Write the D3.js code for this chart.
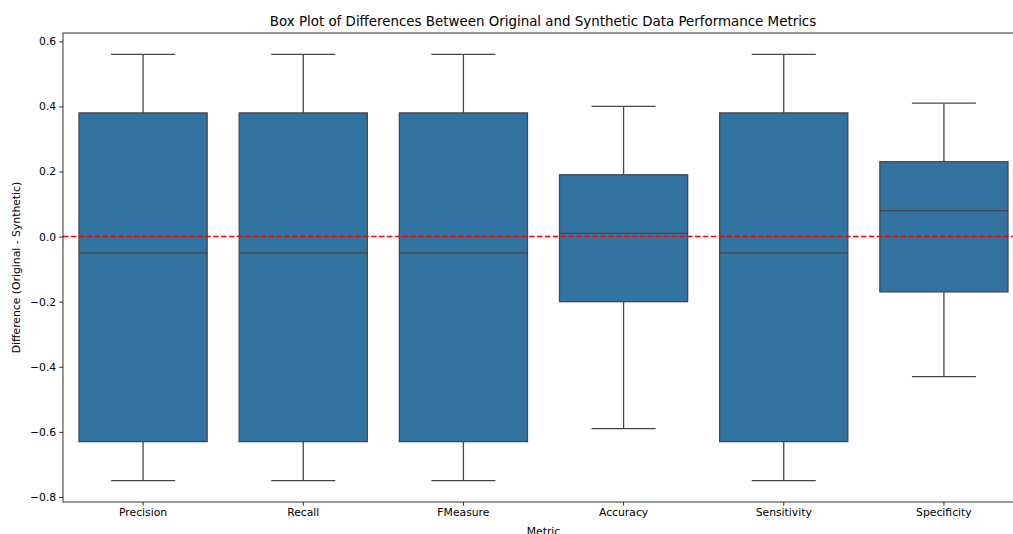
<!DOCTYPE html>
<html lang="en">
<head>
<meta charset="utf-8">
<title>Box Plot</title>
<script src="https://cdn.jsdelivr.net/npm/d3@7"></script>
<style>
  body { margin: 0; background: #fff; }
  text { font-family: "DejaVu Sans", sans-serif; fill: #000; }
</style>
</head>
<body>
<script>
// metrics and their box stats
var metrics = ["Precision", "Recall", "FMeasure", "Accuracy", "Sensitivity", "Specificity"];
var whiskLow = [-0.75, -0.75, -0.75, -0.59, -0.75, -0.43];
var q1 = [-0.63, -0.63, -0.63, -0.20, -0.63, -0.17];
var median = [-0.05, -0.05, -0.05, 0.01, -0.05, 0.08];
var q3 = [0.38, 0.38, 0.38, 0.19, 0.38, 0.23];
var whiskHigh = [0.56, 0.56, 0.56, 0.40, 0.56, 0.41];
var yTicks = [-0.8, -0.6, -0.4, -0.2, 0.0, 0.2, 0.4, 0.6];

var W = 1013, H = 534;
var mLeft = 63, mRight = 1024, mTop = 33, mBottom = 502;

var svg = d3.select("body").append("svg")
    .attr("width", W)
    .attr("height", H);

var x = d3.scaleBand().domain(metrics).range([mLeft, mRight]).paddingInner(0).paddingOuter(0);
var y = d3.scaleLinear().domain([-0.8155, 0.6255]).range([mBottom, mTop]);

var bw = x.bandwidth() * 0.8;
var lineCol = "#474747";
var lw = 1.3;

var data = metrics.map(function (m, i) {
    return {m: m, lo: whiskLow[i], q1: q1[i], med: median[i], q3: q3[i], hi: whiskHigh[i]};
});

var g = svg.append("g").selectAll("g").data(data).enter().append("g")
    .attr("transform", function (d) { return "translate(" + (x(d.m) + x.bandwidth() / 2) + ",0)"; });

// whiskers
g.append("line").attr("x1", 0).attr("x2", 0)
    .attr("y1", function (d) { return y(d.q3); })
    .attr("y2", function (d) { return y(d.hi); })
    .attr("stroke", lineCol).attr("stroke-width", lw);
g.append("line").attr("x1", 0).attr("x2", 0)
    .attr("y1", function (d) { return y(d.q1); })
    .attr("y2", function (d) { return y(d.lo); })
    .attr("stroke", lineCol).attr("stroke-width", lw);
// caps
g.append("line").attr("x1", -bw / 4).attr("x2", bw / 4)
    .attr("y1", function (d) { return y(d.hi); })
    .attr("y2", function (d) { return y(d.hi); })
    .attr("stroke", lineCol).attr("stroke-width", lw);
g.append("line").attr("x1", -bw / 4).attr("x2", bw / 4)
    .attr("y1", function (d) { return y(d.lo); })
    .attr("y2", function (d) { return y(d.lo); })
    .attr("stroke", lineCol).attr("stroke-width", lw);
// boxes
g.append("rect")
    .attr("x", -bw / 2)
    .attr("width", bw)
    .attr("y", function (d) { return y(d.q3); })
    .attr("height", function (d) { return y(d.q1) - y(d.q3); })
    .attr("fill", "#3274a1")
    .attr("stroke", lineCol).attr("stroke-width", lw);
// median
g.append("line").attr("x1", -bw / 2).attr("x2", bw / 2)
    .attr("y1", function (d) { return y(d.med); })
    .attr("y2", function (d) { return y(d.med); })
    .attr("stroke", lineCol).attr("stroke-width", lw);

// zero line
svg.append("line")
    .attr("x1", mLeft).attr("x2", mRight)
    .attr("y1", y(0)).attr("y2", y(0))
    .attr("stroke", "#ff0000").attr("stroke-width", 1.5)
    .attr("stroke-dasharray", "5.5,2.4");

// axes
var yAxis = svg.append("g")
    .attr("transform", "translate(" + mLeft + ",0)")
    .call(d3.axisLeft(y).tickValues(yTicks).tickSize(3.8).tickPadding(3)
        .tickFormat(function (d) { return d3.format(".1f")(d).replace("-", "\u2212"); }));
var xAxis = svg.append("g")
    .attr("transform", "translate(0," + mBottom + ")")
    .call(d3.axisBottom(x).tickSize(3.8).tickPadding(3));

[xAxis, yAxis].forEach(function (a) {
    a.select(".domain").remove();
    a.selectAll("text").attr("font-size", "10.8px").attr("font-family", "DejaVu Sans").attr("fill", "#000");
    a.selectAll("line").attr("stroke", "#000").attr("stroke-width", 0.8);
});

// spines
svg.append("rect")
    .attr("x", mLeft).attr("y", mTop)
    .attr("width", mRight - mLeft).attr("height", mBottom - mTop)
    .attr("fill", "none").attr("stroke", "#000").attr("stroke-width", 0.8);

// labels
svg.append("text")
    .attr("x", (mLeft + mRight) / 2 - 0.5).attr("y", 26)
    .attr("text-anchor", "middle").attr("font-size", "13.4px")
    .text("Box Plot of Differences Between Original and Synthetic Data Performance Metrics");
svg.append("text")
    .attr("x", (mLeft + mRight) / 2).attr("y", 535)
    .attr("text-anchor", "middle").attr("font-size", "10.8px")
    .text("Metric");
svg.append("text")
    .attr("transform", "translate(20," + ((mTop + mBottom) / 2) + ") rotate(-90)")
    .attr("text-anchor", "middle").attr("font-size", "10.8px")
    .text("Difference (Original - Synthetic)");
</script>
</body>
</html>
